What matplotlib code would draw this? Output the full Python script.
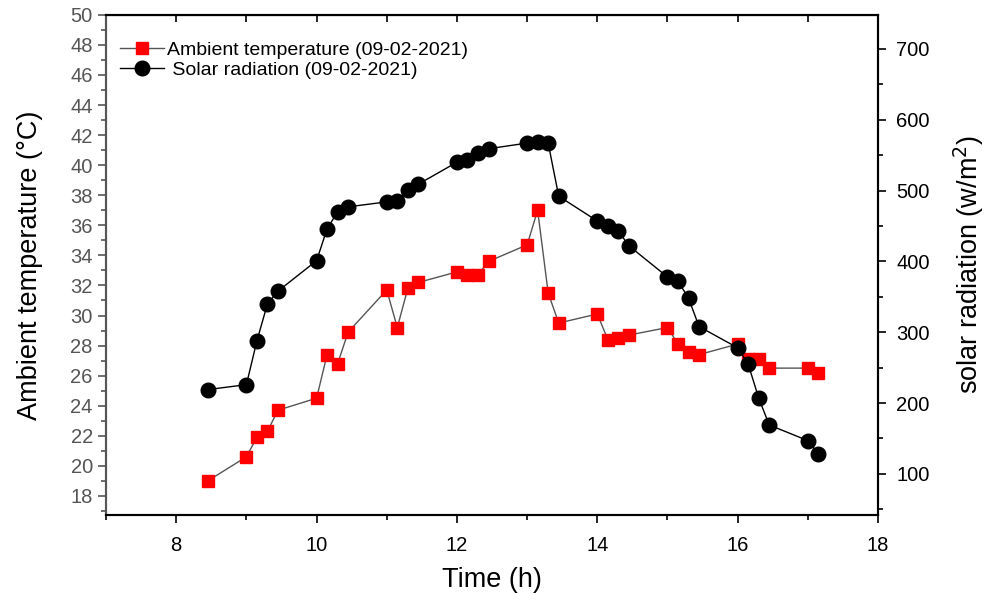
import matplotlib
matplotlib.use("Agg")
from matplotlib import pyplot as plt
from matplotlib.ticker import MultipleLocator

plt.rcParams['font.family'] = ['Liberation Sans', 'DejaVu Sans']

# 时间 (按记录方式 hh.mm 写成小数)
time_h = [8.45, 9.0, 9.15, 9.3, 9.45, 10.0, 10.15, 10.3, 10.45, 11.0, 11.15, 11.3,
          11.45, 12.0, 12.15, 12.3, 12.45, 13.0, 13.15, 13.3, 13.45, 14.0, 14.15,
          14.3, 14.45, 15.0, 15.15, 15.3, 15.45, 16.0, 16.15, 16.3, 16.45, 17.0, 17.15]

# 环境温度 (°C)
ambient_temp = [19.0, 20.6, 21.9, 22.3, 23.7, 24.5, 27.4, 26.8, 28.9, 31.7, 29.2, 31.8,
                32.2, 32.9, 32.7, 32.7, 33.6, 34.7, 37.0, 31.5, 29.5, 30.1, 28.4,
                28.5, 28.7, 29.2, 28.1, 27.6, 27.4, 28.1, 27.1, 27.1, 26.5, 26.5, 26.2]

# 太阳辐射 (w/m2)
solar_rad = [219, 226, 288, 340, 358, 401, 446, 470, 477, 484, 485, 501,
             509, 540, 543, 553, 559, 567, 569, 567, 492, 457, 450,
             443, 422, 378, 372, 348, 308, 278, 255, 207, 169, 147, 128]

fig = plt.figure(figsize=(9.91, 5.94), dpi=100)
ax = fig.add_axes([0.107, 0.133, 0.779, 0.842])
ax2 = ax.twinx()

l1, = ax.plot(time_h, ambient_temp, '-s', color='#555555', lw=1,
              mfc='red', mec='red', ms=9, label='Ambient temperature (09-02-2021)')
l2, = ax2.plot(time_h, solar_rad, '-o', color='black', lw=1,
               mfc='black', mec='black', ms=10.5, label=' Solar radiation (09-02-2021)')

ax.set_xlim(7, 18)
ax.set_ylim(16.73, 50)
ax2.set_ylim(42, 748)

ax.xaxis.set_major_locator(MultipleLocator(2))
ax.xaxis.set_minor_locator(MultipleLocator(1))
ax.yaxis.set_minor_locator(MultipleLocator(1))
ax.set_yticks(range(18, 51, 2))
ax2.yaxis.set_minor_locator(MultipleLocator(50))
ax2.set_yticks(range(100, 701, 100))

ax.tick_params(axis='x', which='major', direction='out', length=6, width=1.2,
               labelsize=14.5, pad=9)
ax.tick_params(axis='x', which='minor', direction='out', length=3.5, width=1.2)
ax.tick_params(axis='y', which='major', direction='out', length=6, width=1.2,
               labelsize=14.5, colors='#555555', labelcolor='#555555')
ax.tick_params(axis='y', which='minor', direction='out', length=3.5, width=1.2,
               colors='#555555')
ax2.tick_params(axis='y', which='major', direction='out', length=6, width=1.2,
                labelsize=14.5, pad=7)
ax2.tick_params(axis='y', which='minor', direction='out', length=3.5, width=1.2)

# 上边框的向内刻度
top = ax.secondary_xaxis('top')
top.set_xticks(range(8, 18))
top.tick_params(direction='in', length=5, width=1.2, labeltop=False)

for a in (ax, ax2):
    for s in a.spines.values():
        s.set_linewidth(1.5)
ax.spines['left'].set_color('#555555')
ax2.spines['left'].set_color('#555555')

ax.set_xlabel('Time (h)', fontsize=19.5, labelpad=9)
ax.set_ylabel('Ambient temperature (°C)', fontsize=19.5, labelpad=20)
ax2.set_ylabel('solar radiation (w/m$^2$)', fontsize=19.5, labelpad=16)

ax.legend(handles=[l1, l2], loc='upper left', bbox_to_anchor=(0.0, 0.975),
          frameon=False, fontsize=14, numpoints=1, handlelength=2.3,
          handletextpad=0.15, labelspacing=0.15, borderaxespad=0.3)

fig.savefig('out.png', dpi=100)
